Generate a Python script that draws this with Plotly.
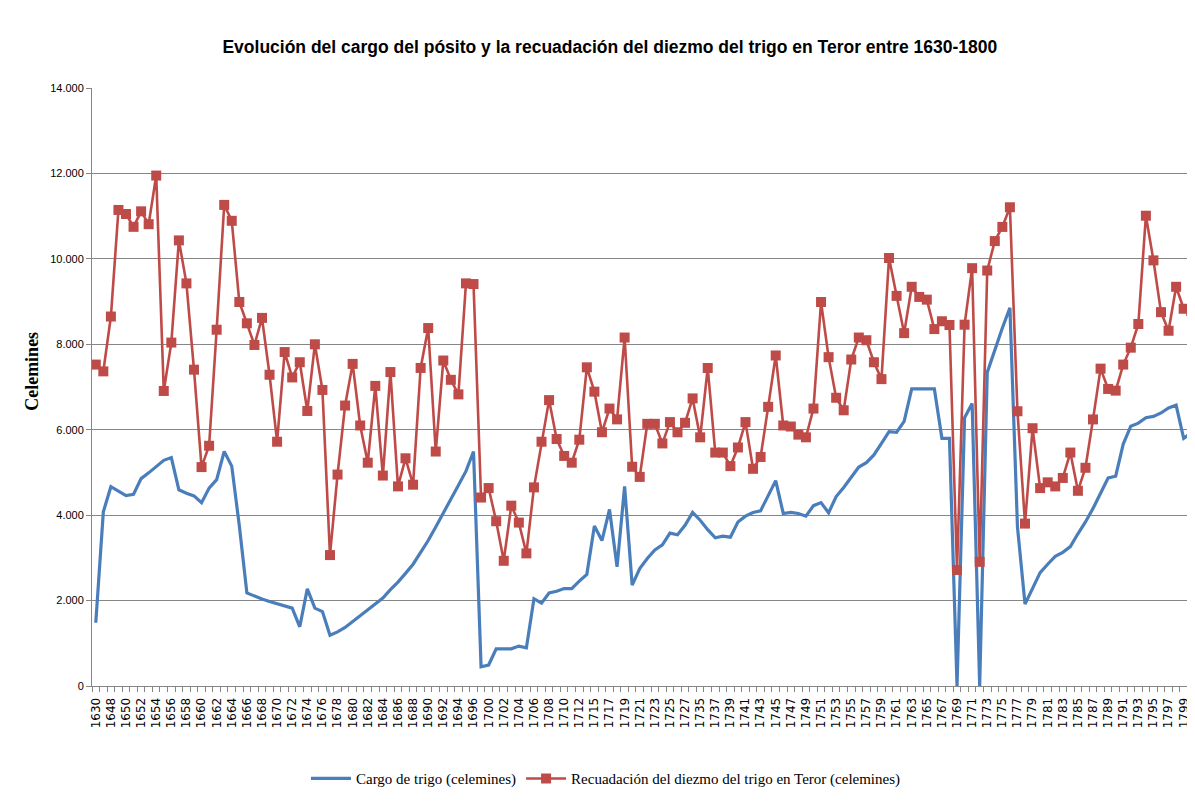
import plotly.graph_objects as go

years = ["1630", "1647",
         "1648", "1649", "1650", "1651", "1652", "1653", "1654", "1655", "1656", "1657",
         "1658", "1659", "1660", "1661", "1662", "1663", "1664", "1665", "1666", "1667",
         "1668", "1669", "1670", "1671", "1672", "1673", "1674", "1675", "1676", "1677",
         "1678", "1679", "1680", "1681", "1682", "1683", "1684", "1685", "1686", "1687",
         "1688", "1689", "1690", "1691", "1692", "1693", "1694", "1695", "1696", "1698",
         "1700", "1701", "1702", "1703", "1704", "1705", "1706", "1707", "1708", "1709",
         "1710", "1711", "1712", "1713",
         "1715", "1716", "1717", "1718", "1719", "1720", "1721", "1722", "1723", "1724",
         "1725", "1726", "1727", "1728",
         "1735", "1736", "1737", "1738", "1739", "1740", "1741", "1742", "1743", "1744",
         "1745", "1746", "1747", "1748", "1749", "1750", "1751", "1752", "1753", "1754",
         "1755", "1756", "1757", "1758", "1759", "1760", "1761", "1762", "1763", "1764",
         "1765", "1766", "1767", "1768", "1769", "1770", "1771", "1772", "1773", "1774",
         "1775", "1776", "1777", "1778", "1779", "1780", "1781", "1782", "1783", "1784",
         "1785", "1786", "1787", "1788", "1789", "1790", "1791", "1792", "1793", "1794",
         "1795", "1796", "1797", "1798", "1799", "1800"]

cargo_trigo = [1481, 4079, 4665, 4570, 4459, 4490, 4855, 4990, 5125, 5283,
               5347, 4594, 4515, 4451, 4293, 4634, 4832, 5490, 5148, 3750,
               2178, 2099, 2036, 1980, 1930, 1877, 1822, 1386, 2273, 1822,
               1742, 1188, 1267, 1370, 1505, 1639, 1782, 1917, 2059, 2257,
               2431, 2637, 2851, 3128, 3406, 3723, 4039, 4350, 4700, 5030,
               5489, 451, 491, 871, 871, 871, 934, 895, 2043, 1940,
               2178, 2218, 2281, 2281, 2455, 2614, 3746, 3406, 4134, 2788,
               4673, 2360, 2750, 2986, 3184, 3303, 3580, 3540, 3762, 4063,
               3881, 3659, 3469, 3509, 3485, 3841, 3976, 4063, 4103, 4475,
               4808, 4039, 4063, 4039, 3976, 4222, 4293, 4055, 4435, 4649,
               4895, 5125, 5228, 5410, 5679, 5956, 5940, 6194, 6954, 6954,
               6954, 6954, 5798, 5798, 0, 6281, 6614, 0, 7342, 7880,
               8380, 8855, 3723, 1917, 2297, 2653, 2851, 3034, 3128, 3263,
               3564, 3841, 4158, 4515, 4871, 4911, 5663, 6083, 6154, 6281,
               6313, 6392, 6511, 6574, 5798, 5925]

diezmo_trigo = [7525, 7366, 8650, 11145, 11050, 10750, 11113, 10812, 11950, 6907,
                8040, 10432, 9426, 7406, 5125, 5624, 8341, 11263, 10891, 8990,
                8491, 7984, 8618, 7287, 5719, 7818, 7224, 7580, 6439, 8000,
                6931, 3065, 4950, 6566, 7541, 6099, 5228, 7026, 4927, 7350,
                4673, 5331, 4713, 7446, 8380, 5489, 7620, 7168, 6828, 9426,
                9410, 4412, 4634, 3858, 2931, 4222, 3826, 3105, 4650, 5719,
                6693, 5782, 5386, 5228, 5766, 7461, 6891, 5941, 6495, 6242,
                8158, 5133, 4895, 6138, 6138, 5679, 6178, 5940, 6162, 6733,
                5822, 7445, 5465, 5465, 5148, 5584, 6178, 5085, 5362, 6535,
                7738, 6099, 6075, 5885, 5822, 6495, 8990, 7699, 6748, 6455,
                7643, 8158, 8095, 7580, 7184, 10020, 9133, 8261, 9346, 9109,
                9045, 8356, 8539, 8451, 2717, 8459, 9782, 2907, 9727, 10416,
                10748, 11208, 6432, 3802, 6035, 4633, 4768, 4673, 4871, 5465,
                4570, 5109, 6241, 7430, 6954, 6915, 7525, 7921, 8475, 11010,
                9964, 8752, 8317, 9346, 8832, 8777]

tick_text = [y if i % 2 == 0 else "" for i, y in enumerate(years)]

fig = go.Figure()
fig.add_trace(go.Scatter(
    x=years, y=cargo_trigo, mode="lines",
    name="Cargo de trigo (celemines)",
    line=dict(color="#4A7EBB", width=3.2),
))
fig.add_trace(go.Scatter(
    x=years, y=diezmo_trigo, mode="lines+markers",
    name="Recuadación del diezmo del trigo en Teror (celemines)",
    line=dict(color="#BE4B48", width=2.6),
    marker=dict(symbol="square", size=10, color="#BE4B48"),
))

fig.update_layout(
    width=1187, height=797, autosize=False,
    paper_bgcolor="white", plot_bgcolor="white",
    separators=",.",
    margin=dict(l=84, r=0, t=80, b=119),
    title=dict(
        text="<b>Evolución del cargo del pósito y la recuadación del diezmo del trigo en Teror entre 1630-1800</b>",
        font=dict(family="Liberation Sans, Arial, sans-serif", size=17.5, color="black"),
        x=0.507, xanchor="center", y=0.951, yanchor="middle",
    ),
    xaxis=dict(
        type="category", range=[-0.5, len(years) - 0.5],
        tickmode="array", tickvals=years, ticktext=tick_text,
        tickson="boundaries", ticks="outside", ticklen=5, tickcolor="#868686",
        ticklabelstandoff=6,
        tickangle=-90, showgrid=False,
        showline=True, linecolor="#868686", linewidth=1,
        tickfont=dict(family="DejaVu Sans", size=12, color="black"),
    ),
    yaxis=dict(
        range=[0, 14000], dtick=2000, tickformat=",.0f",
        showgrid=True, gridcolor="#868686", gridwidth=1,
        showline=True, linecolor="#868686", linewidth=1,
        ticks="outside", ticklen=5, tickcolor="#868686",
        zeroline=False,
        tickfont=dict(family="Liberation Sans, Arial, sans-serif", size=11, color="black"),
    ),
    annotations=[dict(
        text="<b>Celemines</b>", textangle=-90,
        xref="paper", yref="paper", x=-0.0544, y=0.527,
        xanchor="center", yanchor="middle", showarrow=False,
        font=dict(family="Liberation Serif, Times New Roman, serif", size=18, color="black"),
    )],
    legend=dict(
        orientation="h", x=0.194, xanchor="left", y=-0.155, yanchor="middle",
        font=dict(family="Liberation Serif, Times New Roman, serif", size=15, color="black"),
        bgcolor="rgba(0,0,0,0)", itemwidth=40,
    ),
    showlegend=True,
)

fig.write_html("out.html")
